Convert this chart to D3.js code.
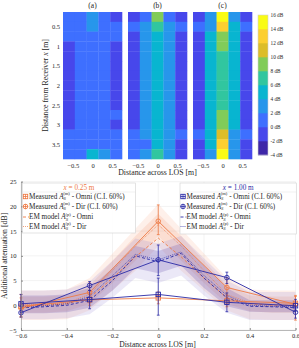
<!DOCTYPE html>
<html>
<head>
<meta charset="utf-8">
<script src="https://cdn.jsdelivr.net/npm/d3@7"></script>
<style>
  body { margin: 0; background: #fff; }
  text { font-family: "Liberation Serif", "DejaVu Serif", serif; fill: #262626; }
</style>
</head>
<body>
<svg id="chart" width="299" height="348"></svg>
<script>
// ---- heatmap data (dB), rows = distance from receiver, cols = across LOS ----
const heatCols = [-0.6, -0.3, 0, 0.3, 0.6];
const heatRows = [0.25, 0.5, 0.75, 1, 1.25, 1.5, 1.75, 2, 2.25, 2.5, 2.75, 3, 3.25, 3.5, 3.75];
const panelTitles = ['(a)', '(b)', '(c)'];

const heatA = [
  [1, 1, 3, 1, -1], [1, 1, 3, 1, 1], [1, 1, 1, 1, 1], [-1, 1, 1, 1, -1], [-1, 1, 1, 1, -1],
  [-1, 1, 1, 1, -1], [-1, 1, 1, 1, -1], [-1, 1, 1, 1, -1], [-1, 1, 1, 1, -1], [-1, 1, 1, 1, -1],
  [-1, 1, 1, 1, 1], [-1, 1, 1, 1, -1], [1, 1, 1, 1, 1], [1, 1, 1, 1, 1], [1, 1, 5, 3, 1]
];
const heatB = [
  [-1, 1, 9, 1, -1], [1, 3, 7, 3, 1], [-1, 3, 5, 3, -1], [-1, 3, 5, 3, -1], [-1, 3, 5, 3, -1],
  [-1, 3, 5, 3, -1], [-1, 3, 5, 3, -1], [-1, 3, 5, 3, -1], [-1, 3, 5, 3, -1], [-1, 3, 5, 3, -1],
  [-1, 3, 5, 3, -1], [-1, 3, 5, 3, -1], [1, 3, 5, 3, 1], [1, 1, 5, 3, -1], [1, 3, 7, 3, -1]
];
const heatC = [
  [-1, 3, 15, 3, -1], [1, 3, 13, 5, 1], [-1, 5, 9, 5, -1], [-1, 5, 9, 5, -1], [-1, 5, 7, 5, -1],
  [-1, 5, 7, 5, -1], [-1, 5, 7, 5, -1], [-1, 5, 7, 5, -1], [-1, 5, 7, 5, -1], [-1, 5, 7, 5, -1],
  [-1, 5, 9, 5, -1], [-1, 5, 9, 5, -1], [1, 5, 11, 3, 1], [-1, 5, 13, 3, -1], [-1, 3, 15, 3, -1]
];

const cbTicks = [16, 14, 12, 10, 8, 6, 4, 2, 0, -2, -4];
const cbColors = ['#3e26a8', '#4747eb', '#3e6fff', '#2796eb', '#08b5d0',
                  '#31c69f', '#81cc59', '#dcbd29', '#fccf30', '#f9fb15'];

// ---- line chart data ----
const measX = [-0.6, -0.3, 0, 0.3, 0.6];
// x = 0.25 m
const omni025 = [-0.2, 1.1, 1.5, 0.9, 0.4];
const omni025Lo = [-2.4, 0.0, 0.3, -0.3, -1.0];
const omni025Hi = [2.2, 2.3, 2.7, 2.0, 1.8];
const dir025 = [-0.6, 2.6, 17.0, 3.6, 0.2];
const dir025Lo = [-2.3, 0.5, 14.3, 1.5, -3.0];
const dir025Hi = [1.5, 4.5, 20.3, 5.6, 2.0];
// x = 1.00 m
const omni100 = [0.3, 1.15, 2.2, 0.6, -0.1];
const omni100Lo = [-1.5, -0.7, -2.0, -1.3, -1.2];
const omni100Hi = [2.2, 3.0, 5.5, 2.5, 1.2];
const dir100 = [-1.5, 4.0, 9.2, 5.6, -1.4];
const dir100Lo = [-2.4, 3.0, 6.0, 4.4, -2.6];
const dir100Hi = [0.5, 4.8, 12.2, 6.7, -0.3];

// EM model curves
const modelX = [-0.6, -0.5, -0.4, -0.3, -0.2, -0.1, 0, 0.1, 0.2, 0.3, 0.4, 0.5, 0.6];
const model025Omni = [0, 0, 0.3, 1.5, 5.5, 9.8, 13.6, 9.8, 5.5, 1.5, 0.3, 0, 0];
const model025Dir = [0.2, 0.2, 0.5, 2.2, 7.0, 12.0, 16.3, 12.0, 7.0, 2.2, 0.5, 0.2, 0.2];
const model100Omni = [-0.5, -0.3, 0.0, 1.0, 5.0, 10.0, 8.8, 10.5, 5.5, 1.5, -0.2, -0.3, -0.5];
const model100Dir = [-0.3, -0.1, 0.3, 1.8, 6.0, 10.3, 9.2, 10.8, 6.0, 2.0, 0.0, -0.2, -0.3];

// model confidence bands
const band025InLo = [-1.5, -1.5, -1.2, 0.3, 4.5, 9.0, 14.0, 9.0, 4.5, 0.3, -1.2, -1.5, -1.5];
const band025InHi = [1.8, 1.8, 2.0, 4.0, 9.0, 14.0, 18.5, 14.0, 9.0, 4.0, 2.0, 1.8, 1.8];
const band025OutLo = [-3.0, -3.0, -2.8, -1.0, 3.0, 7.0, 12.0, 7.0, 3.0, -1.0, -2.8, -3.0, -3.0];
const band025OutHi = [3.0, 3.0, 3.2, 5.5, 10.5, 15.5, 20.5, 15.5, 10.5, 5.5, 3.2, 3.0, 3.0];
const band100InLo = [-1.6, -1.6, -1.4, -0.5, 3.0, 7.5, 6.5, 8.0, 3.5, -0.2, -1.3, -1.4, -1.4];
const band100InHi = [2.0, 2.0, 2.2, 3.5, 7.5, 12.0, 11.0, 12.5, 8.0, 3.5, 1.0, 1.0, 1.0];
const band100OutLo = [-2.8, -2.8, -2.6, -1.8, 1.5, 5.5, 4.5, 6.0, 2.0, -1.5, -3.0, -3.0, -3.0];
const band100OutHi = [3.0, 3.0, 3.2, 4.8, 9.0, 13.5, 12.5, 14.0, 9.5, 5.0, 2.7, 2.7, 2.7];

const yTicks = [-5, 0, 5, 10, 15, 20, 25];
const xTicks = [-0.6, -0.4, -0.2, 0, 0.2, 0.4, 0.6];

const ORANGE = '#ee7a45';
const BLUE = '#2a2aa6';

const svg = d3.select('#chart');

// ================= top: heatmaps =================
const panelX = [[63, 122], [128, 187], [193, 252]];
const panelTop = 12, panelBottom = 159;
const color = d3.scaleThreshold()
  .domain([-2, 0, 2, 4, 6, 8, 10, 12, 14])
  .range(cbColors);

const yRow = d3.scaleBand().domain(heatRows).range([panelTop, panelBottom]);
const yRowLin = d3.scaleLinear().domain([0.125, 3.875]).range([panelTop, panelBottom]);

[heatA, heatB, heatC].forEach((mat, p) => {
  const [x0, x1] = panelX[p];
  const xCol = d3.scaleBand().domain(heatCols).range([x0, x1]);
  const xLin = d3.scaleLinear().domain([-0.75, 0.75]).range([x0, x1]);
  const g = svg.append('g');

  mat.forEach((row, i) => {
    g.selectAll(null)
      .data(row)
      .join('rect')
      .attr('x', (d, j) => xCol(heatCols[j]))
      .attr('y', yRow(heatRows[i]))
      .attr('width', xCol.bandwidth() + 0.3)
      .attr('height', yRow.bandwidth() + 0.3)
      .attr('fill', d => color(d));
  });

  g.append('text')
    .attr('x', (x0 + x1) / 2).attr('y', 8)
    .attr('text-anchor', 'middle').attr('font-size', 7.5)
    .text(panelTitles[p]);

  const xAxis = d3.axisBottom(xLin).tickValues([-0.5, 0, 0.5])
    .tickSize(0).tickPadding(4).tickFormat(d3.format('~g'));
  g.append('g')
    .attr('transform', `translate(0,${panelBottom})`)
    .call(xAxis)
    .call(a => a.select('.domain').remove())
    .selectAll('text').attr('font-size', 6.5).attr('font-family', null);

  if (p === 0) {
    const yAxis = d3.axisLeft(yRowLin).tickValues([0.5, 1, 1.5, 2, 2.5, 3, 3.5])
      .tickSize(0).tickPadding(3).tickFormat(d3.format('~g'));
    g.append('g')
      .attr('transform', `translate(${x0},0)`)
      .call(yAxis)
      .call(a => a.select('.domain').remove())
      .selectAll('text').attr('font-size', 6.5).attr('font-family', null);
  }
});

// y label of heatmaps
const hyl = svg.append('text')
  .attr('transform', `translate(48,${(panelTop + panelBottom) / 2}) rotate(-90)`)
  .attr('text-anchor', 'middle').attr('font-size', 7.8);
hyl.append('tspan').text('Distance from Receiver ');
hyl.append('tspan').attr('font-style', 'italic').text('x');
hyl.append('tspan').text(' [m]');

svg.append('text')
  .attr('x', 157.5).attr('y', 174.5)
  .attr('text-anchor', 'middle').attr('font-size', 7.8)
  .text('Distance across LOS [m]');

// colorbar
const cbY = d3.scaleLinear().domain([-4, 16]).range([155, 15]);
const cb = svg.append('g');
cb.selectAll('rect')
  .data(cbColors)
  .join('rect')
  .attr('x', 258)
  .attr('y', (d, i) => cbY(-2 + i * 2))
  .attr('width', 10)
  .attr('height', cbY(-4) - cbY(-2) + 0.3)
  .attr('fill', d => d);
cb.append('rect')
  .attr('x', 258).attr('y', 15).attr('width', 10).attr('height', 140)
  .attr('fill', 'none').attr('stroke', '#cfcfcf').attr('stroke-width', 0.6);
cb.selectAll('text.cbt')
  .data(cbTicks)
  .join('text')
  .attr('class', 'cbt')
  .attr('x', 270.5)
  .attr('y', d => cbY(d) + 1.8)
  .attr('font-size', 5.3)
  .text(d => `${d} dB`);

// ================= bottom: attenuation vs distance =================
const x = d3.scaleLinear().domain([-0.6, 0.6]).range([21, 295.5]);
const y = d3.scaleLinear().domain([-5, 25]).range([330, 181.7]);
const plot = svg.append('g');

// grid
plot.selectAll('line.gx')
  .data(xTicks)
  .join('line')
  .attr('x1', d => x(d)).attr('x2', d => x(d))
  .attr('y1', y(-5)).attr('y2', y(25))
  .attr('stroke', '#ebebeb').attr('stroke-width', 0.6);
plot.selectAll('line.gy')
  .data(yTicks)
  .join('line')
  .attr('x1', x(-0.6)).attr('x2', x(0.6))
  .attr('y1', d => y(d)).attr('y2', d => y(d))
  .attr('stroke', '#ebebeb').attr('stroke-width', 0.6);

// bands
const bandArea = (lo, hi) => d3.area()
  .x((d, i) => x(modelX[i]))
  .y0((d, i) => y(lo[i]))
  .y1((d, i) => y(hi[i]))(modelX);

plot.append('path').attr('d', bandArea(band025OutLo, band025OutHi))
  .attr('fill', '#f6a27e').attr('fill-opacity', 0.16);
plot.append('path').attr('d', bandArea(band025InLo, band025InHi))
  .attr('fill', '#f08a5e').attr('fill-opacity', 0.17);
plot.append('path').attr('d', bandArea(band100OutLo, band100OutHi))
  .attr('fill', '#8272d0').attr('fill-opacity', 0.16);
plot.append('path').attr('d', bandArea(band100InLo, band100InHi))
  .attr('fill', '#6a52b0').attr('fill-opacity', 0.25);

// model lines
const modelLine = vals => d3.line()
  .x((d, i) => x(modelX[i]))
  .y((d, i) => y(vals[i]))(modelX);

plot.append('path').attr('d', modelLine(model025Omni))
  .attr('fill', 'none').attr('stroke', ORANGE).attr('stroke-width', 0.9).attr('stroke-dasharray', '3,2');
plot.append('path').attr('d', modelLine(model025Dir))
  .attr('fill', 'none').attr('stroke', ORANGE).attr('stroke-width', 0.7).attr('stroke-dasharray', '1,1');
plot.append('path').attr('d', modelLine(model100Omni))
  .attr('fill', 'none').attr('stroke', BLUE).attr('stroke-width', 0.9).attr('stroke-dasharray', '3,2');
plot.append('path').attr('d', modelLine(model100Dir))
  .attr('fill', 'none').attr('stroke', BLUE).attr('stroke-width', 0.7).attr('stroke-dasharray', '1,1');

// measured series
const measured = [
  { v: omni025, lo: omni025Lo, hi: omni025Hi, c: ORANGE, m: 'square' },
  { v: dir025, lo: dir025Lo, hi: dir025Hi, c: ORANGE, m: 'circle' },
  { v: omni100, lo: omni100Lo, hi: omni100Hi, c: BLUE, m: 'square' },
  { v: dir100, lo: dir100Lo, hi: dir100Hi, c: BLUE, m: 'circle' }
];

function drawMarker(g, type, cx, cy, c) {
  if (type === 'square') {
    g.append('rect').attr('x', cx - 2.2).attr('y', cy - 2.2).attr('width', 4.4).attr('height', 4.4)
      .attr('fill', 'none').attr('stroke', c).attr('stroke-width', 0.9);
  } else {
    g.append('circle').attr('cx', cx).attr('cy', cy).attr('r', 2.3)
      .attr('fill', 'none').attr('stroke', c).attr('stroke-width', 0.9);
  }
}

measured.forEach(s => {
  plot.append('path')
    .attr('d', d3.line().x((d, i) => x(measX[i])).y((d, i) => y(s.v[i]))(measX))
    .attr('fill', 'none').attr('stroke', s.c).attr('stroke-width', 0.9);
  measX.forEach((mx, i) => {
    const px = x(mx);
    plot.append('line').attr('x1', px).attr('x2', px)
      .attr('y1', y(s.lo[i])).attr('y2', y(s.hi[i]))
      .attr('stroke', s.c).attr('stroke-width', 0.8);
    [s.lo[i], s.hi[i]].forEach(e => {
      plot.append('line').attr('x1', px - 1.4).attr('x2', px + 1.4)
        .attr('y1', y(e)).attr('y2', y(e))
        .attr('stroke', s.c).attr('stroke-width', 0.8);
    });
    drawMarker(plot, s.m, px, y(s.v[i]), s.c);
  });
});

// axes
const yAxis = d3.axisLeft(y).tickValues(yTicks).tickSize(-2).tickPadding(4.5);
plot.append('g')
  .attr('transform', `translate(${x(-0.6)},0)`)
  .call(yAxis)
  .call(a => a.select('.domain').attr('stroke', '#8c8c8c').attr('stroke-width', 0.6))
  .call(a => a.selectAll('.tick line').attr('stroke', '#8c8c8c'))
  .selectAll('text').attr('font-size', 6.6).attr('font-family', null);

const xAxis = d3.axisBottom(x).tickValues(xTicks).tickSize(-2).tickPadding(3)
  .tickFormat(d => d === 0 ? '0' : d3.format('.1f')(d));
plot.append('g')
  .attr('transform', `translate(0,${y(-5)})`)
  .call(xAxis)
  .call(a => a.select('.domain').attr('stroke', '#8c8c8c').attr('stroke-width', 0.6))
  .call(a => a.selectAll('.tick line').attr('stroke', '#8c8c8c'))
  .selectAll('text').attr('font-size', 6.4).attr('font-family', null);

svg.append('text')
  .attr('transform', `translate(7,${(y(-5) + y(25)) / 2}) rotate(-90)`)
  .attr('text-anchor', 'middle').attr('font-size', 7.8)
  .text('Additional attenuation [dB]');

svg.append('text')
  .attr('x', 157.5).attr('y', 346.5)
  .attr('text-anchor', 'middle').attr('font-size', 7.6)
  .text('Distance across LOS [m]');

// ---- legends ----
function legendLabel(g, lx, ly, pre, sup, post) {
  const t = g.append('text').attr('x', lx).attr('y', ly).attr('font-size', 7.2);
  t.append('tspan').text(pre);
  t.append('tspan').attr('font-style', 'italic').text('A');
  t.append('tspan').attr('font-size', 4.6).attr('font-style', 'italic').attr('dy', 1.6).text('S');
  t.append('tspan').attr('font-size', 4.6).attr('dx', -2.6).attr('dy', -4.8).text(sup);
  t.append('tspan').attr('dy', 3.2).text(post);
}

function drawLegend(bx, by, bw, bh, c, xVal) {
  const g = svg.append('g');
  g.append('rect').attr('x', bx).attr('y', by).attr('width', bw).attr('height', bh)
    .attr('fill', '#fff').attr('fill-opacity', 0.92)
    .attr('stroke', '#d0d0d0').attr('stroke-width', 0.6);
  g.append('line').attr('x1', bx).attr('x2', bx + bw).attr('y1', by + 9).attr('y2', by + 9)
    .attr('stroke', '#e2e2e2').attr('stroke-width', 0.5);
  const title = g.append('text').attr('x', bx + bw / 2).attr('y', by + 7)
    .attr('text-anchor', 'middle').attr('font-size', 7.2);
  title.append('tspan').attr('font-style', 'italic').style('fill', c).text('x');
  title.append('tspan').style('fill', c).text(` = ${xVal} m`);

  const mx = bx + 3;
  const rows = [by + 15.5, by + 25.5, by + 36, by + 45.5];
  // measured entries
  [['square', '(m)', ' - Omni (C.I. 60%)'], ['circle', '(m)', ' - Dir (C.I. 60%)']].forEach((e, i) => {
    const cy = rows[i] - 2;
    g.append('line').attr('x1', mx - 2.5).attr('x2', mx + 2.5).attr('y1', cy).attr('y2', cy)
      .attr('stroke', c).attr('stroke-width', 0.8);
    g.append('line').attr('x1', mx).attr('x2', mx).attr('y1', cy - 2.5).attr('y2', cy + 2.5)
      .attr('stroke', c).attr('stroke-width', 0.8);
    drawMarker(g, e[0], mx, cy, c);
    legendLabel(g, mx + 3.5, rows[i], 'Measured ', e[1], e[2]);
  });
  // model entries
  [['3,2', 0.9, ' - Omni'], ['1,1', 0.7, ' - Dir']].forEach((e, i) => {
    const cy = rows[i + 2] - 2;
    g.append('line').attr('x1', bx + 0.5).attr('x2', mx + 3.5).attr('y1', cy).attr('y2', cy)
      .attr('stroke', c).attr('stroke-width', e[1]).attr('stroke-dasharray', e[0]);
    legendLabel(g, mx + 3.5, rows[i + 2], 'EM model ', '(p)', e[2]);
  });
}

drawLegend(22.5, 183, 113, 50, ORANGE, '0.25');
drawLegend(180, 183, 116.5, 51, BLUE, '1.00');
</script>
</body>
</html>
